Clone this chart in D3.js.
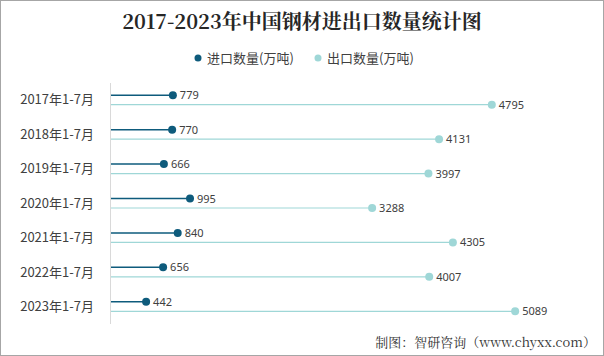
<!DOCTYPE html>
<html><head><meta charset="utf-8">
<script src="https://cdn.jsdelivr.net/npm/d3@7"></script>
<style>body{margin:0;background:#fff}svg{display:block}</style>
</head><body>
<svg id="c" width="604" height="356"></svg>
<script>
const categories = ["2017年1-7月","2018年1-7月","2019年1-7月","2020年1-7月","2021年1-7月","2022年1-7月","2023年1-7月"];
const importVals = [779,770,666,995,840,656,442];
const exportVals = [4795,4131,3997,3288,4305,4007,5089];
const seriesNames = ["进口数量(万吨)","出口数量(万吨)"];
const colors = ["#0e5b7c","#9fd7d7"];

const svg = d3.select("#c");
svg.append("rect").attr("x",0.5).attr("y",0.5).attr("width",603).attr("height",355)
  .attr("fill","#fff").attr("stroke","#a6a6a6");

const x = d3.scaleLinear().domain([0,6000]).range([111,587.5]);
const y = d3.scaleBand().domain(categories).range([83,324]);

svg.append("text").attr("x",302).attr("y",29).attr("text-anchor","middle")
  .attr("font-family","'Noto Serif CJK SC','Liberation Serif',serif").attr("font-weight","bold")
  .attr("font-size",20).attr("fill","#262626").text("2017-2023年中国钢材进出口数量统计图");

// legend
const lg = svg.append("g");
const lx = [198,318];
seriesNames.forEach((n,i)=>{
  lg.append("circle").attr("cx",lx[i]).attr("cy",58).attr("r",3.5).attr("fill",colors[i]);
  lg.append("text").attr("x",lx[i]+9).attr("y",62.5).attr("font-family","'Noto Sans CJK SC',sans-serif")
    .attr("font-size",13).attr("fill","#404040").text(n);
});

// axis
svg.append("line").attr("x1",110.5).attr("x2",110.5).attr("y1",83).attr("y2",324).attr("stroke","#d9d9d9");
const yAxis = d3.axisLeft(y).tickSize(0).tickPadding(0);
const ga = svg.append("g").attr("transform","translate(94,0)").call(yAxis);
ga.select(".domain").remove();
ga.selectAll("text").attr("font-family","'Noto Sans CJK SC',sans-serif").attr("font-size",13).attr("fill","#404040");

const off = [-5,4.5];
[importVals,exportVals].forEach((vals,s)=>{
  const g = svg.append("g");
  categories.forEach((c,i)=>{
    const yy = y(c)+y.bandwidth()/2+off[s];
    g.append("line").attr("x1",x(0)).attr("x2",x(vals[i])).attr("y1",yy).attr("y2",yy)
      .attr("stroke",colors[s]).attr("stroke-width",s===0?1.5:1.2);
    g.append("circle").attr("cx",x(vals[i])).attr("cy",yy).attr("r",4).attr("fill",colors[s]);
    g.append("text").attr("x",x(vals[i])+7).attr("y",yy+4).attr("font-family","'Noto Sans',sans-serif")
      .attr("font-size",11).attr("fill","#404040").text(vals[i]);
  });
});

svg.append("text").attr("x",596).attr("y",347).attr("text-anchor","end")
  .attr("font-family","'Noto Serif CJK SC','Noto Sans CJK SC',serif").attr("font-size",13)
  .attr("fill","#333").text("制图：智研咨询（www.chyxx.com）");
</script>
</body></html>
